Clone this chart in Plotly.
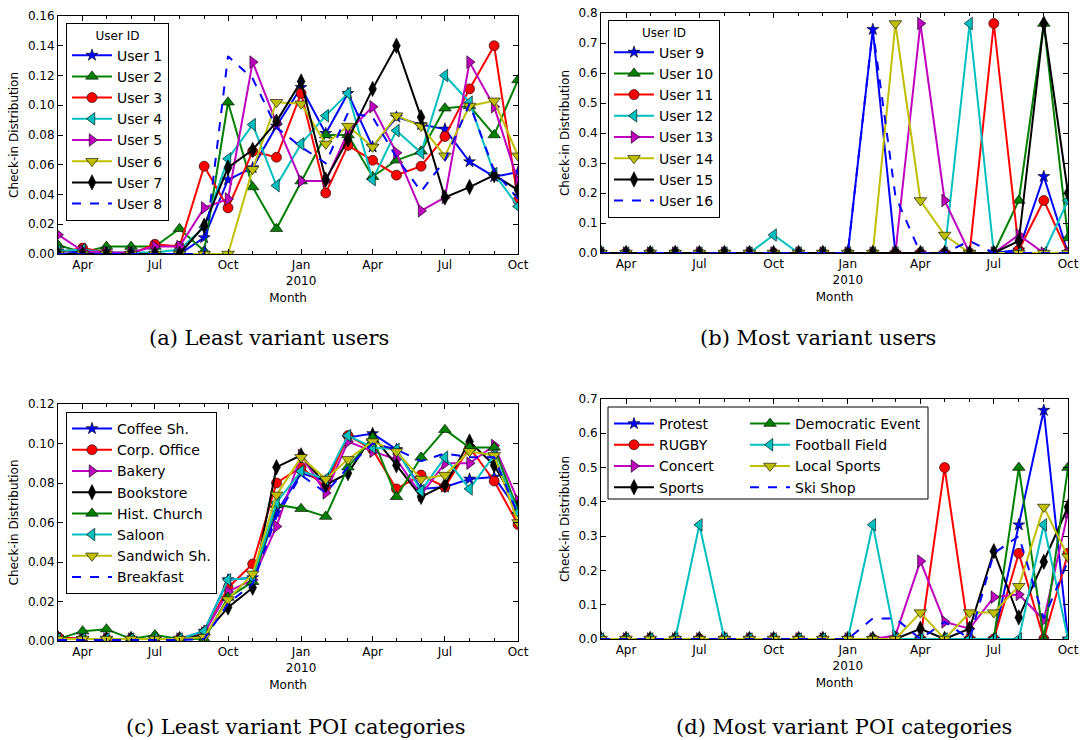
import plotly.graph_objects as go

W, H = 1082, 740

months = ["2009-03-01", "2009-04-01", "2009-05-01", "2009-06-01", "2009-07-01",
          "2009-08-01", "2009-09-01", "2009-10-01", "2009-11-01", "2009-12-01",
          "2010-01-01", "2010-02-01", "2010-03-01", "2010-04-01", "2010-05-01",
          "2010-06-01", "2010-07-01", "2010-08-01", "2010-09-01", "2010-10-01"]

xtick_vals = ["2009-04-01", "2009-07-01", "2009-10-01", "2010-01-01",
              "2010-04-01", "2010-07-01", "2010-10-01"]
xtick_text = ["Apr", "Jul", "Oct", "Jan<br>2010", "Apr", "Jul", "Oct"]

# (a) Least variant users
a_names = ["User 1", "User 2", "User 3", "User 4", "User 5", "User 6", "User 7", "User 8"]
user1 = [0.002, 0.001, 0.0, 0.0, 0.0, 0.0, 0.011, 0.050, 0.058, 0.086, 0.112, 0.081, 0.108, 0.072, 0.092, 0.087, 0.084, 0.062, 0.052, 0.055]
user2 = [0.006, 0.001, 0.005, 0.005, 0.005, 0.017, 0.002, 0.102, 0.045, 0.017, 0.049, 0.080, 0.080, 0.052, 0.063, 0.069, 0.098, 0.0995, 0.080, 0.117]
user3 = [0.001, 0.004, 0.001, 0.0, 0.0065, 0.005, 0.059, 0.031, 0.069, 0.065, 0.108, 0.041, 0.073, 0.063, 0.053, 0.059, 0.079, 0.111, 0.140, 0.036]
user4 = [0.002, 0.003, 0.001, 0.001, 0.001, 0.003, 0.018, 0.064, 0.087, 0.046, 0.074, 0.093, 0.108, 0.050, 0.083, 0.068, 0.120, 0.102, 0.054, 0.032]
user5 = [0.013, 0.002, 0.001, 0.001, 0.005, 0.005, 0.031, 0.037, 0.129, 0.088, 0.049, 0.049, 0.082, 0.099, 0.068, 0.029, 0.038, 0.129, 0.099, 0.049]
user6 = [0.0, 0.0, 0.0, 0.0, 0.0, 0.0, 0.0, 0.0, 0.057, 0.102, 0.101, 0.074, 0.086, 0.072, 0.093, 0.086, 0.066, 0.0995, 0.103, 0.066]
user7 = [0.0, 0.0, 0.0, 0.0, 0.0, 0.0, 0.019, 0.058, 0.070, 0.089, 0.116, 0.050, 0.077, 0.111, 0.140, 0.092, 0.038, 0.045, 0.053, 0.043]
user8 = [0.0, 0.0, 0.0, 0.0, 0.0, 0.0, 0.0, 0.133, 0.118, 0.085, 0.072, 0.061, 0.095, 0.092, 0.065, 0.042, 0.063, 0.101, 0.056, 0.037]

# (b) Most variant users
b_names = ["User 9", "User 10", "User 11", "User 12", "User 13", "User 14", "User 15", "User 16"]
user9 = [0, 0, 0, 0, 0, 0, 0, 0, 0, 0, 0, 0.745, 0, 0, 0, 0, 0, 0.01, 0.255, 0]
user10 = [0, 0, 0, 0, 0, 0, 0, 0, 0, 0, 0, 0, 0, 0, 0, 0, 0, 0.175, 0.765, 0.05]
user11 = [0, 0, 0, 0, 0, 0, 0, 0, 0, 0, 0, 0, 0, 0, 0, 0, 0.765, 0.01, 0.175, 0]
user12 = [0, 0, 0, 0, 0, 0, 0, 0.06, 0, 0, 0, 0, 0, 0, 0, 0.765, 0, 0, 0, 0.175]
user13 = [0, 0, 0, 0, 0, 0, 0, 0, 0, 0, 0, 0, 0, 0.765, 0.175, 0, 0, 0.06, 0, 0]
user14 = [0, 0, 0, 0, 0, 0, 0, 0, 0, 0, 0, 0, 0.765, 0.175, 0.06, 0, 0, 0, 0, 0]
user15 = [0, 0, 0, 0, 0, 0, 0, 0, 0, 0, 0, 0, 0, 0, 0, 0, 0, 0.04, 0.765, 0.2]
user16 = [0, 0, 0, 0, 0, 0, 0, 0, 0, 0, 0, 0.745, 0.19, 0, 0, 0.04, 0, 0, 0, 0]

# (c) Least variant POI categories
c_names = ["Coffee Sh.", "Corp. Office", "Bakery", "Bookstore", "Hist. Church", "Saloon", "Sandwich Sh.", "Breakfast"]
coffee = [0.002, 0.001, 0.001, 0.001, 0.001, 0.001, 0.005, 0.031, 0.032, 0.065, 0.085, 0.081, 0.103, 0.105, 0.097, 0.077, 0.078, 0.082, 0.083, 0.066]
corp = [0.002, 0.001, 0.001, 0.001, 0.001, 0.001, 0.004, 0.027, 0.039, 0.080, 0.088, 0.078, 0.104, 0.097, 0.077, 0.084, 0.078, 0.098, 0.081, 0.059]
bakery = [0.001, 0.001, 0.001, 0.001, 0.001, 0.001, 0.004, 0.025, 0.031, 0.058, 0.094, 0.075, 0.101, 0.096, 0.092, 0.074, 0.090, 0.090, 0.099, 0.071]
bookstore = [0.001, 0.001, 0.001, 0.001, 0.001, 0.001, 0.003, 0.017, 0.027, 0.088, 0.094, 0.079, 0.085, 0.104, 0.089, 0.073, 0.079, 0.101, 0.089, 0.068]
church = [0.001, 0.005, 0.006, 0.001, 0.003, 0.001, 0.001, 0.022, 0.030, 0.069, 0.067, 0.063, 0.088, 0.103, 0.073, 0.093, 0.107, 0.098, 0.098, 0.066]
saloon = [0.001, 0.001, 0.001, 0.001, 0.001, 0.001, 0.005, 0.031, 0.032, 0.070, 0.086, 0.082, 0.104, 0.098, 0.097, 0.076, 0.093, 0.077, 0.094, 0.065]
sandwich = [0.001, 0.001, 0.001, 0.001, 0.001, 0.001, 0.002, 0.021, 0.034, 0.074, 0.093, 0.082, 0.092, 0.101, 0.096, 0.082, 0.084, 0.096, 0.094, 0.060]
breakfast = [0.0005, 0.0005, 0.0005, 0.0005, 0.0005, 0.0005, 0.001, 0.019, 0.029, 0.063, 0.084, 0.075, 0.088, 0.100, 0.097, 0.091, 0.095, 0.093, 0.093, 0.064]

# (d) Most variant POI categories
d_names = ["Protest", "RUGBY", "Concert", "Sports", "Democratic Event", "Football Field", "Local Sports", "Ski Shop"]
protest = [0, 0, 0, 0, 0, 0, 0, 0, 0, 0, 0, 0, 0, 0, 0, 0, 0, 0.333, 0.667, 0]
rugby = [0, 0, 0, 0, 0, 0, 0, 0, 0, 0, 0, 0, 0, 0, 0.5, 0, 0, 0.25, 0, 0.25]
concert = [0, 0, 0, 0, 0, 0, 0, 0, 0, 0, 0, 0, 0.01, 0.227, 0.05, 0.03, 0.122, 0.13, 0.056, 0.37]
sports = [0, 0, 0, 0, 0, 0, 0, 0, 0, 0, 0, 0, 0, 0.03, 0, 0.03, 0.256, 0.063, 0.225, 0.385]
democratic = [0, 0, 0, 0, 0, 0, 0, 0, 0, 0, 0, 0, 0, 0, 0, 0, 0, 0.5, 0, 0.5]
football = [0, 0, 0, 0, 0.333, 0, 0, 0, 0, 0, 0, 0.333, 0, 0, 0, 0, 0, 0, 0.333, 0]
local_sports = [0, 0, 0, 0, 0, 0, 0, 0, 0, 0, 0, 0, 0, 0.077, 0, 0.077, 0.077, 0.154, 0.385, 0.24]
ski_shop = [0, 0, 0, 0, 0, 0, 0, 0, 0, 0, 0, 0.06, 0.06, 0, 0.05, 0, 0.25, 0.30, 0.06, 0.227]

# styles
BLUE, GREEN, RED, CYAN, MAG, YEL, BLACK = "#0000ff", "#008000", "#ff0000", "#00bfbf", "#bf00bf", "#bfbf00", "#000000"
STY = {
    "star": (BLUE, "star", 9),
    "up": (GREEN, "triangle-up", 11),
    "circle": (RED, "circle", 10),
    "left": (CYAN, "triangle-left", 11),
    "right": (MAG, "triangle-right", 11),
    "down": (YEL, "triangle-down", 11),
    "diamond": (BLACK, "diamond-tall", 11),
    "dash": (BLUE, None, 0),
}

fig = go.Figure()

def px2x(p):
    return p / W

def px2y(p):
    return 1 - p / H

panels = [
    ("", (58, 518), (16, 254), 0.16, 0.02, ".2f", "legend",
     [(a_names[0], user1, "star"), (a_names[1], user2, "up"), (a_names[2], user3, "circle"),
      (a_names[3], user4, "left"), (a_names[4], user5, "right"), (a_names[5], user6, "down"),
      (a_names[6], user7, "diamond"), (a_names[7], user8, "dash")]),
    ("2", (601, 1068), (13, 253), 0.8, 0.1, ".1f", "legend2",
     [(b_names[0], user9, "star"), (b_names[1], user10, "up"), (b_names[2], user11, "circle"),
      (b_names[3], user12, "left"), (b_names[4], user13, "right"), (b_names[5], user14, "down"),
      (b_names[6], user15, "diamond"), (b_names[7], user16, "dash")]),
    ("3", (58, 518), (404, 641), 0.12, 0.02, ".2f", "legend3",
     [(c_names[0], coffee, "star"), (c_names[1], corp, "circle"), (c_names[2], bakery, "right"),
      (c_names[3], bookstore, "diamond"), (c_names[4], church, "up"), (c_names[5], saloon, "left"),
      (c_names[6], sandwich, "down"), (c_names[7], breakfast, "dash")]),
    ("4", (601, 1068), (399, 639), 0.7, 0.1, ".1f", None,
     [(d_names[0], protest, "star"), (d_names[1], rugby, "circle"), (d_names[2], concert, "right"),
      (d_names[3], sports, "diamond"), (d_names[4], democratic, "up"), (d_names[5], football, "left"),
      (d_names[6], local_sports, "down"), (d_names[7], ski_shop, "dash")]),
]

layout_axes = {}
for suf, (x0, x1), (y0, y1), ymax, dt, fmt, leg, series in panels:
    for i, (name, vals, sty) in enumerate(series):
        color, sym, size = STY[sty]
        if leg is None:
            lg = "legend4" if i < 4 else "legend5"
        else:
            lg = leg
        kw = dict(x=months, y=vals, name=name, legend=lg,
                  xaxis="x" + suf, yaxis="y" + suf)
        if sym is None:
            fig.add_trace(go.Scatter(mode="lines", line=dict(color=color, width=2, dash="dash"), **kw))
        else:
            fig.add_trace(go.Scatter(mode="lines+markers", line=dict(color=color, width=2),
                                     marker=dict(symbol=sym, size=size, color=color,
                                                 line=dict(color="black", width=0.6)), **kw))
    xa = "xaxis" + suf
    ya = "yaxis" + suf
    layout_axes[xa] = dict(
        domain=[px2x(x0), px2x(x1)], anchor="y" + suf, type="date", automargin=False,
        range=[months[0], months[-1]], tickvals=xtick_vals, ticktext=xtick_text,
        ticks="inside", ticklen=5, tickcolor="black", tickwidth=1,
        minor=dict(tickvals=months, ticks="inside", ticklen=3, tickcolor="black"),
        showline=True, linecolor="black", linewidth=1, mirror="allticks",
        showgrid=False, zeroline=False,
        tickfont=dict(family="DejaVu Sans", size=12, color="black"),
        title=dict(text="Month", font=dict(family="DejaVu Sans", size=12, color="black"), standoff=6),
    )
    layout_axes[ya] = dict(
        domain=[px2y(y1), px2y(y0)], anchor="x" + suf, automargin=False,
        range=[0, ymax], dtick=dt, tick0=0, tickformat=fmt,
        ticks="inside", ticklen=5, tickcolor="black", tickwidth=1,
        showline=True, linecolor="black", linewidth=1, mirror="allticks",
        showgrid=False, zeroline=False,
        tickfont=dict(family="DejaVu Sans", size=12, color="black"),
        title=dict(text="Check-in Distribution", font=dict(family="DejaVu Sans", size=12, color="black"), standoff=6),
    )

leg_common = dict(font=dict(family="DejaVu Sans", size=14, color="black"),
                  xanchor="left", yanchor="top", tracegroupgap=0, itemwidth=40)

legends = dict(
    legend=dict(x=px2x(66), y=px2y(23), bgcolor="white", bordercolor="black", borderwidth=1,
                title=dict(text="User ID", side="top center", font=dict(family="DejaVu Sans", size=12)),
                **leg_common),
    legend2=dict(x=px2x(608), y=px2y(20), bgcolor="white", bordercolor="black", borderwidth=1,
                 title=dict(text="User ID", side="top center", font=dict(family="DejaVu Sans", size=12)),
                 **leg_common),
    legend3=dict(x=px2x(66), y=px2y(412), bgcolor="white", bordercolor="black", borderwidth=1, **leg_common),
    legend4=dict(x=px2x(609), y=px2y(408), bgcolor="rgba(0,0,0,0)", borderwidth=0, **leg_common),
    legend5=dict(x=px2x(745), y=px2y(408), bgcolor="rgba(0,0,0,0)", borderwidth=0, **leg_common),
)

cap_font = dict(family="DejaVu Serif", size=21, color="black")
annotations = [
    dict(text="(a) Least variant users", x=px2x(269), y=px2y(338), xref="paper", yref="paper",
         showarrow=False, font=cap_font, xanchor="center", yanchor="middle"),
    dict(text="(b) Most variant users", x=px2x(818), y=px2y(338), xref="paper", yref="paper",
         showarrow=False, font=cap_font, xanchor="center", yanchor="middle"),
    dict(text="(c) Least variant POI categories", x=px2x(295), y=px2y(727), xref="paper", yref="paper",
         showarrow=False, font=cap_font, xanchor="center", yanchor="middle"),
    dict(text="(d) Most variant POI categories", x=px2x(844), y=px2y(727), xref="paper", yref="paper",
         showarrow=False, font=cap_font, xanchor="center", yanchor="middle"),
]

shapes = [dict(type="rect", xref="paper", yref="paper", x0=px2x(608), x1=px2x(928),
               y0=px2y(499), y1=px2y(407), line=dict(color="black", width=1),
               fillcolor="white", layer="above")]

fig.update_layout(
    width=W, height=H, margin=dict(l=0, r=0, t=0, b=0),
    paper_bgcolor="white", plot_bgcolor="white",
    font=dict(family="DejaVu Sans", size=12, color="black"),
    annotations=annotations, shapes=shapes, showlegend=True,
    **layout_axes, **legends,
)

fig.write_html("out.html")
